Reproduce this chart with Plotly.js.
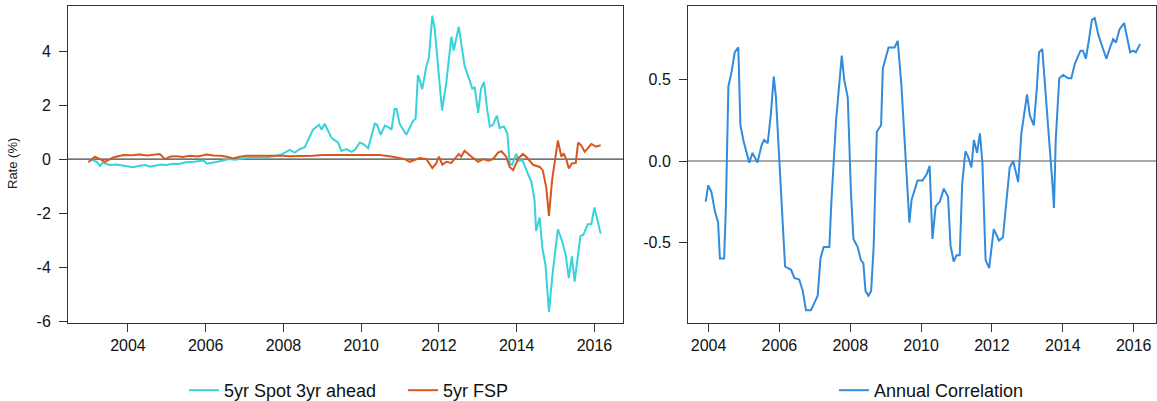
<!DOCTYPE html>
<html>
<head>
<meta charset="utf-8">
<script src="https://cdn.plot.ly/plotly-3.0.1.min.js"></script>
<style>html,body{margin:0;padding:0;background:#fff;}#chart{width:1157px;height:401px;}</style>
</head>
<body>
<div id="chart"></div>
<script>
// ---- Left panel: 5yr Spot 3yr ahead (traced vertices, decimal years) ----
const spotYears = [2003.02,2003.12,2003.2,2003.28,2003.36,2003.45,2003.55,2003.7,2003.85,2004.0,2004.13,2004.3,2004.45,2004.57,2004.7,2004.85,2005.0,2005.15,2005.3,2005.5,2005.7,2005.85,2005.95,2006.03,2006.15,2006.3,2006.45,2006.6,2006.75,2006.9,2007.1,2007.3,2007.5,2007.7,2007.91,2008.05,2008.16,2008.29,2008.42,2008.55,2008.68,2008.76,2008.92,2008.98,2009.06,2009.24,2009.41,2009.49,2009.62,2009.75,2009.84,2009.96,2010.05,2010.18,2010.35,2010.41,2010.5,2010.61,2010.72,2010.78,2010.86,2010.91,2010.99,2011.16,2011.33,2011.4,2011.46,2011.5,2011.57,2011.63,2011.68,2011.74,2011.83,2011.89,2012.08,2012.19,2012.32,2012.38,2012.51,2012.66,2012.77,2012.86,2012.92,2013.01,2013.08,2013.16,2013.24,2013.31,2013.39,2013.49,2013.56,2013.67,2013.76,2013.82,2013.88,2013.99,2014.06,2014.15,2014.25,2014.38,2014.46,2014.5,2014.59,2014.66,2014.74,2014.83,2014.93,2015.06,2015.17,2015.26,2015.34,2015.42,2015.49,2015.64,2015.72,2015.83,2015.92,2016.0,2016.16];
const spotValues = [0.0,-0.05,-0.1,-0.25,-0.12,-0.18,-0.22,-0.2,-0.24,-0.26,-0.3,-0.25,-0.22,-0.28,-0.24,-0.2,-0.22,-0.17,-0.18,-0.12,-0.1,-0.06,-0.05,-0.17,-0.15,-0.1,-0.05,0.0,-0.02,0.02,0.05,0.08,0.05,0.1,0.15,0.25,0.34,0.24,0.37,0.44,0.84,1.09,1.27,1.09,1.31,0.78,0.61,0.3,0.37,0.27,0.34,0.61,0.56,0.4,1.31,1.27,0.9,1.24,1.17,1.09,1.86,1.86,1.3,0.9,1.4,1.5,3.11,2.96,2.59,3.09,3.46,3.74,5.31,4.84,1.8,2.84,4.53,4.02,4.9,3.46,2.96,2.61,2.65,1.71,2.59,2.86,1.84,1.21,1.27,1.61,1.15,1.21,0.96,-0.16,-0.22,0.19,-0.06,-0.04,-0.41,-0.85,-1.54,-2.66,-2.16,-3.29,-3.91,-5.66,-4.16,-2.6,-3.04,-3.54,-4.41,-3.6,-4.54,-2.85,-2.79,-2.41,-2.41,-1.79,-2.76];

// ---- Left panel: 5yr FSP ----
const fspYears = [2002.98,2003.15,2003.28,2003.41,2003.62,2003.88,2004.1,2004.3,2004.5,2004.7,2004.82,2004.95,2005.1,2005.25,2005.4,2005.6,2005.8,2006.02,2006.2,2006.4,2006.54,2006.71,2006.85,2007.05,2007.3,2007.6,2007.82,2008.0,2008.16,2008.42,2008.76,2009.0,2009.3,2009.62,2009.9,2010.2,2010.48,2010.82,2011.12,2011.25,2011.38,2011.5,2011.68,2011.83,2011.93,2012.0,2012.09,2012.19,2012.32,2012.51,2012.57,2012.66,2012.84,2013.01,2013.14,2013.27,2013.39,2013.52,2013.61,2013.73,2013.82,2013.91,2014.04,2014.16,2014.29,2014.42,2014.59,2014.67,2014.76,2014.83,2014.91,2015.0,2015.06,2015.15,2015.21,2015.28,2015.34,2015.42,2015.52,2015.58,2015.66,2015.75,2015.92,2016.04,2016.16];
const fspValues = [-0.12,0.09,0.0,-0.1,0.06,0.15,0.14,0.17,0.13,0.16,0.19,0.0,0.1,0.11,0.08,0.12,0.1,0.17,0.13,0.12,0.09,0.02,0.08,0.12,0.12,0.13,0.14,0.12,0.11,0.11,0.12,0.15,0.15,0.17,0.15,0.15,0.15,0.09,0.0,-0.1,-0.03,0.04,0.0,-0.33,-0.16,0.09,-0.21,-0.1,-0.14,0.19,0.09,0.31,0.09,-0.1,0.0,-0.06,0.0,0.24,0.29,0.09,-0.29,-0.41,0.02,0.19,0.02,-0.21,-0.29,-0.41,-1.04,-2.1,-0.79,0.09,0.69,0.09,0.21,-0.03,-0.35,-0.16,-0.14,0.61,0.51,0.27,0.56,0.46,0.51];

// ---- Right panel: Annual Correlation ----
const corrYears = [2003.92,2003.99,2004.08,2004.18,2004.27,2004.32,2004.44,2004.49,2004.56,2004.65,2004.74,2004.84,2004.9,2004.99,2005.15,2005.24,2005.38,2005.5,2005.57,2005.67,2005.76,2005.84,2005.9,2006.0,2006.16,2006.33,2006.42,2006.56,2006.66,2006.75,2006.89,2007.08,2007.16,2007.25,2007.41,2007.47,2007.6,2007.76,2007.83,2007.93,2008.02,2008.09,2008.21,2008.3,2008.37,2008.43,2008.51,2008.59,2008.66,2008.75,2008.87,2008.92,2009.01,2009.08,2009.25,2009.34,2009.44,2009.57,2009.67,2009.73,2009.9,2010.04,2010.16,2010.24,2010.32,2010.41,2010.53,2010.64,2010.76,2010.83,2010.92,2011.0,2011.09,2011.16,2011.25,2011.32,2011.42,2011.49,2011.58,2011.66,2011.73,2011.82,2011.92,2012.05,2012.2,2012.31,2012.5,2012.6,2012.74,2012.83,2012.93,2012.99,2013.07,2013.18,2013.26,2013.33,2013.42,2013.52,2013.63,2013.71,2013.75,2013.8,2013.9,2014.01,2014.15,2014.24,2014.34,2014.5,2014.57,2014.65,2014.74,2014.82,2014.9,2015.0,2015.09,2015.23,2015.35,2015.42,2015.5,2015.6,2015.73,2015.81,2015.9,2015.99,2016.06,2016.18];
const corrValues = [-0.25,-0.15,-0.19,-0.31,-0.38,-0.6,-0.6,-0.28,0.46,0.55,0.67,0.7,0.22,0.12,-0.01,0.05,-0.01,0.1,0.13,0.11,0.29,0.52,0.4,0.01,-0.65,-0.67,-0.72,-0.73,-0.8,-0.92,-0.92,-0.83,-0.6,-0.53,-0.53,-0.24,0.25,0.65,0.5,0.39,-0.2,-0.48,-0.53,-0.61,-0.63,-0.8,-0.83,-0.8,-0.53,0.18,0.22,0.57,0.64,0.7,0.7,0.74,0.48,0.0,-0.38,-0.24,-0.12,-0.12,-0.08,-0.03,-0.48,-0.28,-0.25,-0.17,-0.22,-0.52,-0.62,-0.58,-0.58,-0.14,0.06,0.03,-0.04,0.13,0.05,0.17,-0.01,-0.61,-0.66,-0.42,-0.49,-0.47,-0.04,0.0,-0.13,0.17,0.33,0.41,0.28,0.22,0.43,0.67,0.69,0.4,0.13,-0.15,-0.29,0.13,0.51,0.53,0.51,0.51,0.6,0.68,0.68,0.63,0.75,0.87,0.88,0.78,0.72,0.63,0.71,0.75,0.73,0.81,0.85,0.77,0.67,0.68,0.67,0.72];

// ---- Axis ticks ----
const yearTicks = [2004,2006,2008,2010,2012,2014,2016];
const rateTicks = [-6,-4,-2,0,2,4];
const corrTicks = [-0.5,0,0.5];
const corrTickText = ["-0.5","0.0","0.5"];

const FONT = "Arial, 'Liberation Sans', sans-serif";
const W = 1157, H = 401;
const px = v => v / W;
const py = v => 1 - v / H;

const traces = [
  {x: spotYears, y: spotValues, type: 'scatter', mode: 'lines', name: '5yr Spot 3yr ahead',
   line: {color: '#36D3DA', width: 2}, xaxis: 'x', yaxis: 'y', legend: 'legend'},
  {x: fspYears, y: fspValues, type: 'scatter', mode: 'lines', name: '5yr FSP',
   line: {color: '#D5581F', width: 2}, xaxis: 'x', yaxis: 'y', legend: 'legend'},
  {x: corrYears, y: corrValues, type: 'scatter', mode: 'lines', name: 'Annual Correlation',
   line: {color: '#328BDB', width: 2}, xaxis: 'x2', yaxis: 'y2', legend: 'legend2'}
];

const axisCommon = {
  showline: true, mirror: true, linecolor: '#333', linewidth: 1,
  ticks: 'outside', ticklen: 8, tickwidth: 1, tickcolor: '#333',
  showgrid: false, zeroline: false,
  tickfont: {family: FONT, size: 16, color: '#111'}
};

const layout = {
  width: W, height: H,
  margin: {l: 0, r: 0, t: 0, b: 0, autoexpand: false},
  paper_bgcolor: '#fff', plot_bgcolor: '#fff',
  showlegend: true,
  xaxis: Object.assign({}, axisCommon, {domain: [px(68), px(623)], range: [2002.458, 2016.735],
    tickvals: yearTicks, ticktext: yearTicks.map(String), anchor: 'y', ticklabelstandoff: 0}),
  yaxis: Object.assign({}, axisCommon, {domain: [py(323), py(6)], range: [-6.07, 5.67],
    tickvals: rateTicks, ticktext: rateTicks.map(String), anchor: 'x', ticklabelstandoff: 5}),
  xaxis2: Object.assign({}, axisCommon, {domain: [px(688), px(1156)], range: [2003.42, 2016.63],
    tickvals: yearTicks, ticktext: yearTicks.map(String), anchor: 'y2', ticklabelstandoff: 0}),
  yaxis2: Object.assign({}, axisCommon, {domain: [py(323), py(6)], range: [-0.998, 0.955],
    tickvals: corrTicks, ticktext: corrTickText, anchor: 'x2', ticklabelstandoff: 5}),
  shapes: [
    {type: 'line', xref: 'x domain', yref: 'y', x0: 0, x1: 1, y0: 0, y1: 0, line: {color: '#444', width: 1.2}, layer: 'below'},
    {type: 'line', xref: 'x2 domain', yref: 'y2', x0: 0, x1: 1, y0: 0, y1: 0, line: {color: '#555', width: 1.2}, layer: 'below'}
  ],
  annotations: [
    {text: 'Rate (%)', xref: 'paper', yref: 'paper', x: px(12), y: py(164), textangle: -90,
     showarrow: false, xanchor: 'center', yanchor: 'middle', font: {family: FONT, size: 13, color: '#222'}}
  ],
  legend: {orientation: 'h', x: px(184), y: -8 / H, xanchor: 'left', yanchor: 'bottom',
    font: {family: FONT, size: 18, color: '#111'}, bgcolor: 'rgba(0,0,0,0)', itemwidth: 30, entrywidth: 174},
  legend2: {orientation: 'h', x: px(834), y: -8 / H, xanchor: 'left', yanchor: 'bottom',
    font: {family: FONT, size: 18, color: '#111'}, bgcolor: 'rgba(0,0,0,0)', itemwidth: 30}
};

Plotly.newPlot('chart', traces, layout, {displayModeBar: false, staticPlot: true});
</script>
</body>
</html>
